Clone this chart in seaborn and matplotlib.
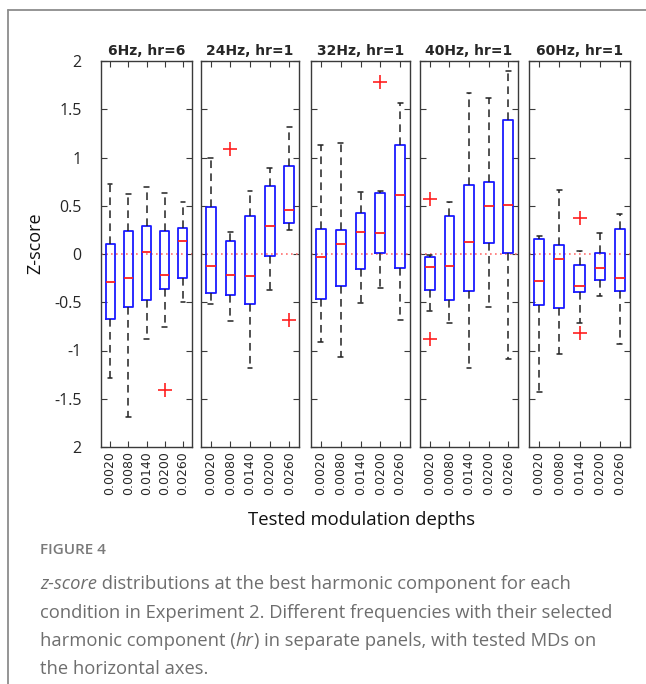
import matplotlib
matplotlib.use("Agg")
import matplotlib.pyplot as plt
from matplotlib.lines import Line2D
import seaborn as sns
import pandas as pd

# ---------------- data ----------------
panel_titles = ["6Hz, hr=6", "24Hz, hr=1", "32Hz, hr=1", "40Hz, hr=1", "60Hz, hr=1"]
md_labels = ["0.0020", "0.0080", "0.0140", "0.0200", "0.0260"]
y_ticks = [2, 1.5, 1, 0.5, 0, -0.5, -1, -1.5, -2]
y_tick_labels = ["2", "1.5", "1", "0.5", "0", "-0.5", "-1", "-1.5", "2"]

# per panel (rows) and per modulation depth (columns)
whisker_low = [
    [-1.29, -1.69, -0.88, -0.76, -0.50],
    [-0.52, -0.69, -1.18, -0.37, 0.25],
    [-0.91, -1.07, -0.51, -0.35, -0.68],
    [-0.59, -0.72, -1.18, -0.55, -1.09],
    [-1.43, -1.04, -0.71, -0.44, -0.93],
]
quartile_1 = [
    [-0.67, -0.55, -0.48, -0.36, -0.25],
    [-0.40, -0.42, -0.52, -0.02, 0.32],
    [-0.47, -0.33, -0.16, 0.01, -0.15],
    [-0.37, -0.48, -0.38, 0.11, 0.01],
    [-0.53, -0.56, -0.39, -0.27, -0.38],
]
medians = [
    [-0.29, -0.25, 0.02, -0.22, 0.13],
    [-0.12, -0.22, -0.23, 0.29, 0.46],
    [-0.03, 0.10, 0.23, 0.22, 0.61],
    [-0.13, -0.12, 0.12, 0.50, 0.51],
    [-0.28, -0.05, -0.33, -0.14, -0.25],
]
quartile_3 = [
    [0.10, 0.24, 0.29, 0.24, 0.27],
    [0.49, 0.13, 0.39, 0.70, 0.91],
    [0.26, 0.25, 0.42, 0.63, 1.13],
    [-0.03, 0.39, 0.72, 0.75, 1.39],
    [0.16, 0.09, -0.11, 0.01, 0.26],
]
whisker_high = [
    [0.73, 0.62, 0.69, 0.63, 0.54],
    [0.99, 0.23, 0.65, 0.89, 1.32],
    [1.13, 1.15, 0.64, 0.65, 1.56],
    [-0.01, 0.54, 1.67, 1.62, 1.90],
    [0.19, 0.66, 0.03, 0.22, 0.41],
]
flier_panel = [0, 1, 1, 2, 3, 3, 4, 4]
flier_box = [3, 1, 4, 3, 0, 0, 2, 2]
flier_value = [-1.41, 1.09, -0.68, 1.78, 0.57, -0.88, 0.37, -0.82]

# ---------------- figure ----------------
sns.set_theme(style="ticks")
plt.rcParams["font.family"] = ["DejaVu Sans"]

W, H = 646, 684
fig = plt.figure(figsize=(W / 100, H / 100), dpi=100)
fig.patch.set_facecolor("white")

panel_px = [(101, 192), (201, 299), (311, 410), (420, 518), (529, 630)]
top_px, bot_px = 61, 447

flier_df = pd.DataFrame({"panel": flier_panel,
                         "pos": [b + 1 for b in flier_box],
                         "value": flier_value})

spine_c = "#3a3a3a"
for p, (x0, x1) in enumerate(panel_px):
    ax = fig.add_axes([x0 / W, 1 - bot_px / H, (x1 - x0) / W, (bot_px - top_px) / H])
    stats = []
    for i in range(5):
        stats.append(dict(med=medians[p][i], q1=quartile_1[p][i], q3=quartile_3[p][i],
                          whislo=whisker_low[p][i], whishi=whisker_high[p][i], fliers=[]))
    ax.axhline(0, color="#ff7070", ls=(0, (1, 2)), lw=1.2, zorder=1)
    ax.bxp(stats, positions=range(1, 6), widths=0.5, showfliers=False,
           boxprops=dict(color="#1a1aff", lw=1.3),
           medianprops=dict(color="#ff2020", lw=1.3),
           whiskerprops=dict(color="#222222", lw=1.1, ls=(0, (5, 3.5))),
           capprops=dict(color="#222222", lw=1.1),
           capwidths=0.25, manage_ticks=False)
    sub = flier_df[flier_df["panel"] == p]
    if len(sub):
        sns.scatterplot(data=sub, x="pos", y="value", marker="+", color="#ff2020",
                        s=90, linewidth=1.2, ax=ax, legend=False, zorder=5)
    ax.set_xlim(0.5, 5.5)
    ax.set_ylim(-2, 2)
    ax.set_xlabel("")
    ax.set_ylabel("")
    ax.set_xticks(range(1, 6))
    ax.set_xticklabels(md_labels, rotation=90, fontsize=9, family="DejaVu Sans")
    ax.set_yticks(y_ticks)
    if p == 0:
        ax.set_yticklabels(y_tick_labels, fontsize=11.5, family="Open Sans")
    else:
        ax.set_yticklabels([])
    ax.tick_params(direction="in", top=True, right=True, length=4, width=0.8,
                   color=spine_c, pad=3)
    ax.tick_params(axis="y", pad=14)
    for s in ax.spines.values():
        s.set_color(spine_c)
        s.set_linewidth(1.0)
        s.set_visible(True)
    ax.set_title(panel_titles[p], fontsize=10, fontweight="bold", family="DejaVu Sans", pad=4)

fig.text(35 / W, 1 - 243 / H, "Z-score", rotation=90, ha="center", va="center",
         family="Open Sans", fontsize=13, color="#111111")
fig.text(362 / W, 1 - 525 / H, "Tested modulation depths", ha="center", va="baseline",
         family="Open Sans", fontsize=13.3, color="#111111")

# caption
fig.text(40 / W, 1 - 554 / H, "FIGURE 4", ha="left", va="baseline",
         family="Open Sans", fontsize=11, fontweight="semibold", color="#7a7a7a")
cap_c = "#6e6e6e"
cap_fs = 13.25
y1 = 1 - 589 / H
dy = 28.5 / H
t = fig.text(40 / W, y1, "z-score", ha="left", va="baseline", family="Open Sans",
             fontsize=cap_fs, style="italic", color=cap_c)
fig.canvas.draw()
bb = t.get_window_extent()
fig.text(bb.x1 / W, y1, " distributions at the best harmonic component for each",
         ha="left", va="baseline", family="Open Sans", fontsize=cap_fs, color=cap_c)
fig.text(40 / W, y1 - dy, "condition in Experiment 2. Different frequencies with their selected",
         ha="left", va="baseline", family="Open Sans", fontsize=cap_fs, color=cap_c)
t2 = fig.text(40 / W, y1 - 2 * dy, "harmonic component (", ha="left", va="baseline",
              family="Open Sans", fontsize=cap_fs, color=cap_c)
fig.canvas.draw()
bx = t2.get_window_extent().x1
t3 = fig.text(bx / W, y1 - 2 * dy, "hr", ha="left", va="baseline", family="Open Sans",
              fontsize=cap_fs, style="italic", color=cap_c)
fig.canvas.draw()
bx = t3.get_window_extent().x1
fig.text(bx / W, y1 - 2 * dy, ") in separate panels, with tested MDs on", ha="left",
         va="baseline", family="Open Sans", fontsize=cap_fs, color=cap_c)
fig.text(40 / W, y1 - 3 * dy, "the horizontal axes.", ha="left", va="baseline",
         family="Open Sans", fontsize=cap_fs, color=cap_c)

# frame lines of the figure container
fig.add_artist(Line2D([7.5 / W, 7.5 / W], [1 - 10 / H, 0], transform=fig.transFigure,
                      color="#8c8c8c", lw=1.3))
fig.add_artist(Line2D([7.5 / W, 1], [1 - 10 / H, 1 - 10 / H], transform=fig.transFigure,
                      color="#8c8c8c", lw=1.3))

fig.savefig("out.png", dpi=100, facecolor="white")
